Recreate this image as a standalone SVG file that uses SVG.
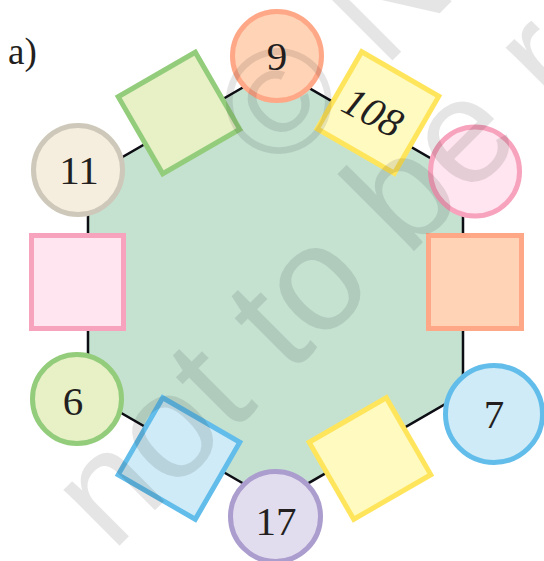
<svg xmlns="http://www.w3.org/2000/svg" width="544" height="561" viewBox="0 0 544 561">
<style>
.num{font-family:"Liberation Serif","Times New Roman",serif;font-size:41px;fill:#231f20;text-anchor:middle}
.sq,.ci{stroke-width:5}
.green{fill:#e8f0c6;stroke:#93cd7c}
.peach{fill:#ffd3b6;stroke:#ffa888}
.yellow{fill:#fffac0;stroke:#ffe55c}
.pink{fill:#ffe5ef;stroke:#f7a3bd}
.cream{fill:#f5eddd;stroke:#cdc8b9}
.blue{fill:#cfebf7;stroke:#62bdea}
.lilac{fill:#e2dcef;stroke:#ab9dcd}
.wm{font-family:"Liberation Sans",Arial,sans-serif;font-size:150px;fill:#000;fill-opacity:0.1}
</style>
<rect width="544" height="561" fill="#ffffff"/>
<text x="8" y="64" font-family="Liberation Serif, Times New Roman, serif" font-size="37" fill="#231f20">a)</text>
<g id="connectors">
<polygon points="275.5,68.6 463,177 463,393.8 275.5,502.2 88,393.8 88,177" fill="#c5e2d1" stroke="#0d0d14" stroke-width="2.5"/>
</g>
<g id="sq-topleft"><rect class="sq green" x="-44.5" y="-44.5" width="89" height="89" transform="translate(179 113) rotate(-30)"/></g>
<g id="sq-108"><rect class="sq yellow" x="-44.5" y="-44.5" width="89" height="89" transform="translate(378 112.5) rotate(30)"/>
<text class="num" font-style="italic" transform="translate(373 112) rotate(28)" y="14">108</text></g>
<g id="sq-left"><rect class="sq pink" x="31.5" y="235.5" width="92" height="93"/></g>
<g id="sq-right"><rect class="sq peach" x="428.5" y="235.5" width="93" height="93"/></g>
<g id="sq-bottomleft"><rect class="sq blue" x="-44.5" y="-44.5" width="89" height="89" transform="translate(179 458.5) rotate(30)"/></g>
<g id="sq-bottomright"><rect class="sq yellow" x="-44.5" y="-44.5" width="89" height="89" transform="translate(370 458.5) rotate(-30)"/></g>
<g id="c-9"><circle class="ci peach" cx="277" cy="56" r="44.5"/><text class="num" x="277" y="70">9</text></g>
<g id="c-11"><circle class="ci cream" cx="78" cy="170" r="44.5"/><text class="num" x="79" y="184">11</text></g>
<g id="c-pink"><circle class="ci pink" cx="475" cy="171.5" r="44.5"/></g>
<g id="c-6"><circle class="ci green" cx="77" cy="399" r="44.5"/><text class="num" x="73" y="415">6</text></g>
<g id="c-7"><circle class="ci blue" cx="494" cy="414" r="48.5"/><text class="num" x="494" y="428">7</text></g>
<g id="c-17"><circle class="ci lilac" cx="275.5" cy="516.5" r="45"/><text class="num" x="276" y="535">17</text></g>
<g id="watermark" transform="translate(173 437) rotate(-45)">
<text class="wm" x="257" y="-111">© NCERT</text>
<text class="wm" x="-125" y="39">not to be republished</text>
</g>
</svg>
